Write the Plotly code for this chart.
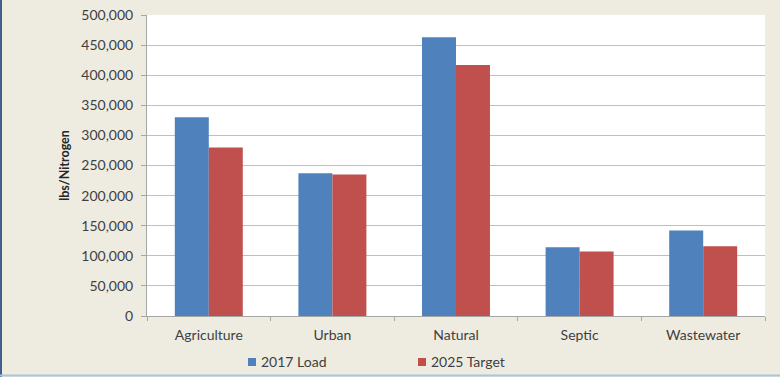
import plotly.graph_objects as go

# Nitrogen loads by source sector
categories = ["Agriculture", "Urban", "Natural", "Septic", "Wastewater"]
series_names = ["2017 Load", "2025 Target"]
load_2017 = [330000, 237000, 463000, 114000, 142000]
target_2025 = [280000, 235000, 417000, 107000, 116000]
y_ticks = [0, 50000, 100000, 150000, 200000, 250000, 300000, 350000, 400000, 450000, 500000]
y_tick_labels = [f"{v:,}" for v in y_ticks]

FONT = "Lato, 'Open Sans', sans-serif"
TEXT = "#3F3F3F"
BG = "#EEECE1"
COLORS = ["#4F81BD", "#C0504D"]

# plot area geometry in pixels (used to place the legend in paper units)
W, H = 780, 377
L, R, T, B = 147, 15, 15, 61
PW, PH = W - L - R, H - T - B


def px_x(x):
    return (x - L) / PW


def px_y(y):
    return (H - B - y) / PH


fig = go.Figure()
for name, vals, col in zip(series_names, [load_2017, target_2025], COLORS):
    fig.add_trace(go.Bar(
        name=name, x=categories, y=vals,
        marker=dict(color=col, line=dict(width=0)),
        showlegend=False,
    ))

# compact legend below the categories: small square + label
shapes = []
annotations = []
legend_x = [248, 418]
for name, col, lx in zip(series_names, COLORS, legend_x):
    shapes.append(dict(
        type="rect", xref="paper", yref="paper",
        x0=px_x(lx), x1=px_x(lx + 8), y0=px_y(366), y1=px_y(358),
        fillcolor=col, line=dict(width=0),
    ))
    annotations.append(dict(
        text=name, xref="paper", yref="paper",
        x=px_x(lx + 11), y=px_y(362), xanchor="left", yanchor="middle",
        showarrow=False, font=dict(family=FONT, size=14, color=TEXT),
    ))

# outer chart frame: blue line on the left, pale blue line at the bottom
shapes.append(dict(type="line", xref="paper", yref="paper",
                   x0=px_x(1), x1=px_x(1), y0=px_y(H), y1=px_y(0),
                   line=dict(color="#3F5F8F", width=2)))
shapes.append(dict(type="line", xref="paper", yref="paper",
                   x0=px_x(0), x1=px_x(W), y0=px_y(375.5), y1=px_y(375.5),
                   line=dict(color="#A9C4DF", width=2)))

fig.update_layout(
    width=W, height=H,
    margin=dict(l=L, r=R, t=T, b=B, autoexpand=False),
    paper_bgcolor=BG,
    plot_bgcolor="white",
    barmode="group",
    bargap=0.45,
    bargroupgap=0,
    font=dict(family=FONT, size=14, color=TEXT),
    showlegend=False,
    xaxis=dict(
        showline=True, linecolor="#A6A6A6", linewidth=1,
        ticks="outside", tickson="boundaries", ticklen=4, tickcolor="#A6A6A6",
        showgrid=False, ticklabelstandoff=6,
        tickfont=dict(family=FONT, size=14, color=TEXT),
    ),
    yaxis=dict(
        range=[0, 500000],
        tickvals=y_ticks, ticktext=y_tick_labels,
        showgrid=True, gridcolor="#BFBFBF", gridwidth=1,
        showline=True, linecolor="#A6A6A6", linewidth=1,
        ticks="outside", ticklen=5, tickcolor="#A6A6A6",
        ticklabelstandoff=5,
        tickfont=dict(family=FONT, size=14, color=TEXT),
        zeroline=False,
        title=dict(text="<b>lbs/Nitrogen</b>", standoff=8,
                   font=dict(family=FONT, size=12.5, color="#262626")),
    ),
    shapes=shapes,
    annotations=annotations,
)

fig.write_html("out.html")
